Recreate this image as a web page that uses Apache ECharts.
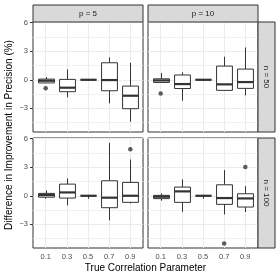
<!DOCTYPE html>
<html>
<head>
<meta charset="utf-8">
<script src="https://cdn.jsdelivr.net/npm/echarts@6/dist/echarts.min.js"></script>
<style>html,body{margin:0;padding:0;background:#fff;}#c{width:280px;height:280px;}</style>
</head>
<body>
<div id="c"></div>
<script>
// ---- data ----
const categories = ['0.1', '0.3', '0.5', '0.7', '0.9'];
const colLabels = ['p = 5', 'p = 10'];
const rowLabels = ['n = 50', 'n = 100'];
const yTicks = [-3, 0, 3, 6];
const yMinorTicks = [-4.5, -1.5, 1.5, 4.5];
const yTitle = 'Difference in Improvement in Precision (%)';
const xTitle = 'True Correlation Parameter';

// [min, Q1, median, Q3, max] for each category
const boxes_p5_n50 = [
  [-0.35, -0.33, -0.1, 0.07, 0.28],
  [-1.84, -1.25, -0.83, 0.04, 1.09],
  [0, 0, 0, 0, 0],
  [-2.47, -1.15, -0.03, 1.78, 2.34],
  [-4.39, -3.03, -1.67, -0.66, 1.78]
];
const boxes_p10_n50 = [
  [-0.3, -0.28, -0.07, 0.1, 0.7],
  [-2.2, -0.92, -0.45, 0.5, 0.77],
  [0, 0, 0, 0, 0],
  [-1.15, -1.11, -0.48, 1.43, 2.41],
  [-1.63, -0.9, -0.24, 1.12, 3.38]
];
const boxes_p5_n100 = [
  [-0.15, -0.15, 0.07, 0.25, 0.56],
  [-1.0, -0.24, 0.35, 1.22, 1.82],
  [0, 0, 0, 0, 0],
  [-2.57, -1.25, -0.2, 1.57, 5.54],
  [-0.8, -0.69, 0, 1.4, 3.8]
];
const boxes_p10_n100 = [
  [-0.52, -0.3, -0.1, 0.04, 0.25],
  [-1.67, -0.69, 0.46, 0.91, 1.71],
  [0, 0, 0, 0, 0],
  [-1.95, -0.9, -0.24, 1.15, 2.69],
  [-1.7, -1.18, -0.28, 0.21, 1.01]
];
// outliers: [category index, value]
const outliers_p5_n50 = [[0, -0.9]];
const outliers_p10_n50 = [[0, -1.44]];
const outliers_p5_n100 = [[4, 4.88]];
const outliers_p10_n100 = [[3, -5.0], [4, 3.0]];

// ---- layout ----
const panels = [
  {boxes: boxes_p5_n50, out: outliers_p5_n50, left: 33, top: 22, showY: true, showX: false},
  {boxes: boxes_p10_n50, out: outliers_p10_n50, left: 148, top: 22, showY: false, showX: false},
  {boxes: boxes_p5_n100, out: outliers_p5_n100, left: 33, top: 138, showY: true, showX: true},
  {boxes: boxes_p10_n100, out: outliers_p10_n100, left: 148, top: 138, showY: false, showX: true}
];
const PW = 110, PH = 110;
const YMIN = -5.47, YMAX = 6.05;
const FONT = 'Liberation Sans, Arial, sans-serif';
const DARK = '#333333';

const grid = [], xAxis = [], yAxis = [], series = [];
panels.forEach((p, i) => {
  grid.push({left: p.left, top: p.top, width: PW, height: PH, show: true,
    backgroundColor: '#fff', borderColor: DARK, borderWidth: 1});
  xAxis.push({
    type: 'value', gridIndex: i, min: 0.4, max: 5.6,
    axisLine: {show: false},
    axisTick: {show: p.showX, length: 3, customValues: categories.map((c, k) => k + 1), lineStyle: {color: DARK, width: 1}},
    axisLabel: {show: p.showX, customValues: categories.map((c, k) => k + 1), margin: 5,
      formatter: v => categories[Math.round(v) - 1], color: '#4d4d4d', fontSize: 7.5, fontFamily: FONT},
    splitLine: {show: true, lineStyle: {color: '#ebebeb', width: 1}}
  });
  yAxis.push({
    type: 'value', gridIndex: i, min: YMIN, max: YMAX,
    axisLine: {show: false},
    axisTick: {show: p.showY, length: 3, customValues: yTicks, lineStyle: {color: DARK, width: 1}},
    axisLabel: {show: p.showY, customValues: yTicks, margin: 5, color: '#4d4d4d', fontSize: 7.5, fontFamily: FONT,
      formatter: v => String(v).replace('-', '\u2212')},
    splitLine: {show: true, lineStyle: {color: '#ebebeb', width: 1}}
  });
});
panels.forEach((p, i) => {
  yAxis.push({
    type: 'value', gridIndex: i, min: YMIN, max: YMAX, position: 'left',
    axisLine: {show: false},
    axisTick: {show: false, customValues: yMinorTicks},
    axisLabel: {show: false},
    splitLine: {show: true, lineStyle: {color: '#f1f1f1', width: 1}}
  });
});

function renderBox(params, api) {
  const x = api.value(0);
  const lo = api.coord([x, api.value(1)]);
  const q1 = api.coord([x, api.value(2)]);
  const md = api.coord([x, api.value(3)]);
  const q3 = api.coord([x, api.value(4)]);
  const hi = api.coord([x, api.value(5)]);
  const w = api.size([0.75, 0])[0];
  const cx = Math.round(md[0]) + 0.5;
  return {
    type: 'group',
    children: [
      {type: 'line', shape: {x1: cx, y1: lo[1], x2: cx, y2: q1[1]}, style: {stroke: DARK, lineWidth: 1}},
      {type: 'line', shape: {x1: cx, y1: q3[1], x2: cx, y2: hi[1]}, style: {stroke: DARK, lineWidth: 1}},
      {type: 'rect', shape: {x: cx - w / 2, y: q3[1], width: w, height: q1[1] - q3[1]},
        style: {fill: '#fff', stroke: DARK, lineWidth: 1}},
      {type: 'line', shape: {x1: cx - w / 2, y1: md[1], x2: cx + w / 2, y2: md[1]},
        style: {stroke: DARK, lineWidth: 2.2}}
    ]
  };
}

panels.forEach((p, i) => {
  series.push({
    type: 'custom', xAxisIndex: i, yAxisIndex: i, renderItem: renderBox,
    encode: {x: 0, y: [1, 2, 3, 4, 5]}, silent: true,
    data: p.boxes.map((b, k) => [k + 1].concat(b))
  });
  series.push({
    type: 'scatter', xAxisIndex: i, yAxisIndex: i, symbolSize: 4.5, silent: true,
    itemStyle: {color: DARK}, z: 5,
    data: p.out.map(o => [o[0] + 1, o[1]])
  });
});

const graphic = [];
// top strips
[[33, colLabels[0]], [148, colLabels[1]]].forEach(([x, t]) => {
  graphic.push({type: 'rect', shape: {x: x, y: 5, width: PW, height: 17},
    style: {fill: '#d9d9d9', stroke: DARK, lineWidth: 1}, z: 10});
  graphic.push({type: 'text', x: x + PW / 2, y: 13.5,
    style: {text: t, fill: '#1a1a1a', font: '8px ' + FONT, align: 'center', verticalAlign: 'middle'}, z: 11});
});
// right strips
[[22, rowLabels[0]], [138, rowLabels[1]]].forEach(([y, t]) => {
  graphic.push({type: 'rect', shape: {x: 258, y: y, width: 17, height: PH},
    style: {fill: '#d9d9d9', stroke: DARK, lineWidth: 1}, z: 10});
  graphic.push({type: 'text', x: 266.5, y: y + PH / 2, rotation: -Math.PI / 2,
    style: {text: t, fill: '#1a1a1a', font: '8px ' + FONT, align: 'center', verticalAlign: 'middle'}, z: 11});
});
// axis titles
graphic.push({type: 'text', x: 145.5, y: 268,
  style: {text: xTitle, fill: '#000', font: '10px ' + FONT, align: 'center', verticalAlign: 'middle'}});
graphic.push({type: 'text', x: 9, y: 135, rotation: Math.PI / 2,
  style: {text: yTitle, fill: '#000', font: '10px ' + FONT, align: 'center', verticalAlign: 'middle'}});

const chart = echarts.init(document.getElementById('c'), null, {renderer: 'canvas'});
chart.setOption({
  animation: false,
  backgroundColor: '#fff',
  grid, xAxis, yAxis, series, graphic
});
</script>
</body>
</html>
